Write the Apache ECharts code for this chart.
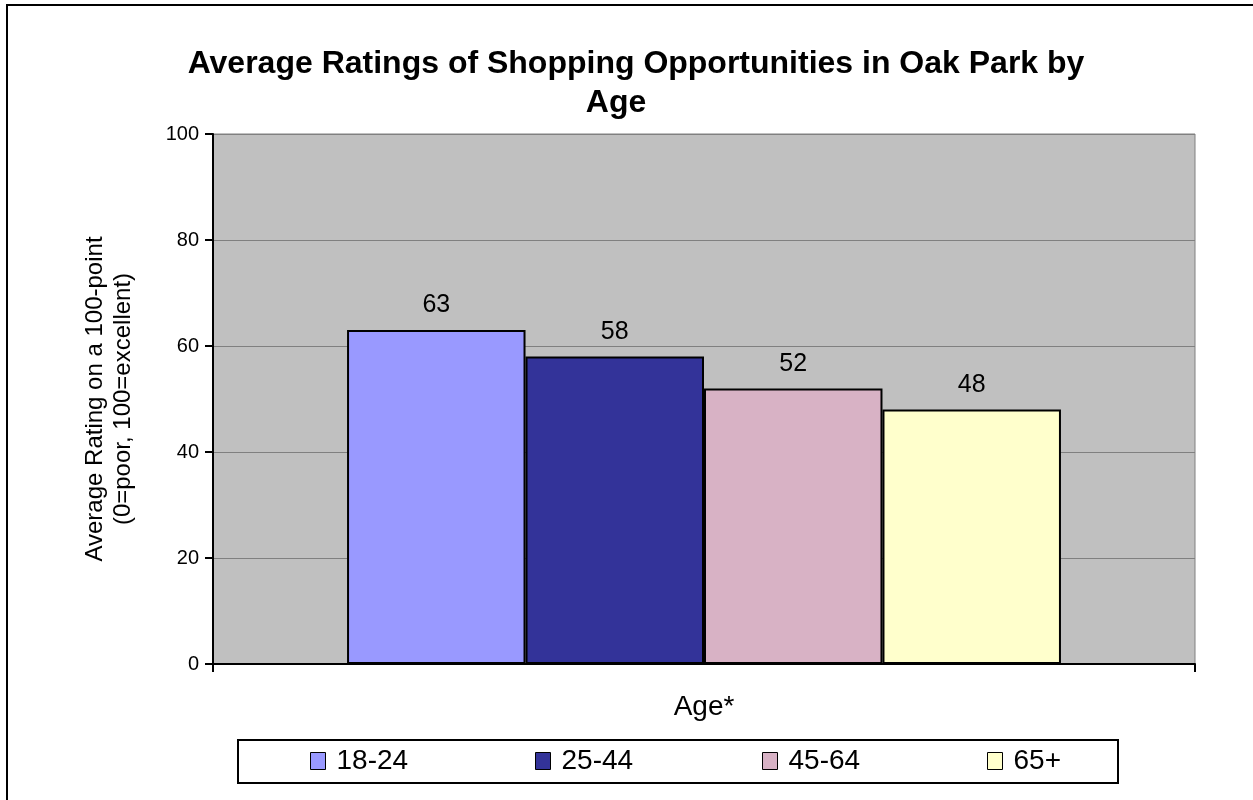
<!DOCTYPE html>
<html>
<head>
<meta charset="utf-8">
<script src="https://cdn.jsdelivr.net/npm/echarts@6/dist/echarts.min.js"></script>
<style>
  html, body { margin: 0; padding: 0; background: #fff; }
  #chart { width: 1253px; height: 800px; }
</style>
</head>
<body>
<div id="chart"></div>
<script>
// data
const categories = ["Age"];
const ageGroups = ["18-24", "25-44", "45-64", "65+"];
const ratings = [63, 58, 52, 48];
const barColors = ["#9999FF", "#333399", "#D8B2C5", "#FFFFCC"];
const yTicks = { min: 0, max: 100, interval: 20 };

const legendLefts = [305, 530, 757, 982];

const chart = echarts.init(document.getElementById("chart"));

const series = ageGroups.map((name, i) => ({
  name: name,
  type: "bar",
  data: [ratings[i]],
  barGap: "0%",
  barCategoryGap: "27.3%",
  itemStyle: { color: barColors[i], borderColor: "#000", borderWidth: 2 },
  label: {
    show: true,
    position: "top",
    distance: 12,
    color: "#000",
    fontSize: 25,
  },
}));

// one legend per item so the spacing matches the boxed Excel legend
const legends = ageGroups.map((name, i) => ({
  left: legendLefts[i],
  top: 742,
  itemWidth: 15,
  itemHeight: 17,
  icon: "rect",
  itemStyle: { borderColor: "#000", borderWidth: 1 },
  textStyle: { fontSize: 28, color: "#000", padding: [0, 0, 0, 6] },
  data: [name],
}));

const option = {
  animation: false,
  backgroundColor: "#fff",
  textStyle: { fontFamily: "Liberation Sans, Arial, sans-serif", color: "#000" },
  title: [
    {
      text: "Average Ratings of Shopping Opportunities in Oak Park by",
      left: 631,
      top: 43,
      textAlign: "center",
      textStyle: { fontSize: 32, fontWeight: "bold", color: "#000" },
    },
    {
      text: "Age",
      left: 611,
      top: 82,
      textAlign: "center",
      textStyle: { fontSize: 32, fontWeight: "bold", color: "#000" },
    },
  ],
  grid: {
    left: 213,
    top: 134,
    width: 982,
    height: 530,
    show: true,
    backgroundColor: "#C0C0C0",
    borderColor: "#808080",
    borderWidth: 1,
  },
  legend: legends,
  xAxis: {
    type: "category",
    data: categories,
    name: "Age*",
    nameLocation: "middle",
    nameGap: 29,
    nameTextStyle: { fontSize: 28, color: "#000" },
    axisLine: { lineStyle: { color: "#000", width: 2 } },
    axisTick: { show: true, length: 8, lineStyle: { color: "#000", width: 2 } },
    axisLabel: { show: false },
  },
  yAxis: {
    type: "value",
    min: yTicks.min,
    max: yTicks.max,
    interval: yTicks.interval,
    name: "Average Rating on a 100-point\n(0=poor, 100=excellent)",
    nameLocation: "middle",
    nameGap: 76,
    nameTextStyle: { fontSize: 24, color: "#000", lineHeight: 28 },
    axisLine: { show: true, lineStyle: { color: "#000", width: 2 } },
    axisTick: { show: true, length: 8, lineStyle: { color: "#000", width: 2 } },
    axisLabel: { fontSize: 20, color: "#000", margin: 14 },
    splitLine: { lineStyle: { color: "#808080", width: 1 } },
  },
  series: series,
  graphic: [
    {
      type: "rect",
      shape: { x: 7, y: 5, width: 1270, height: 820 },
      style: { fill: null, stroke: "#000", lineWidth: 2 },
      silent: true,
    },
    {
      type: "rect",
      shape: { x: 238, y: 740, width: 880, height: 43 },
      style: { fill: null, stroke: "#000", lineWidth: 2 },
      silent: true,
    },
  ],
};

chart.setOption(option);
</script>
</body>
</html>
